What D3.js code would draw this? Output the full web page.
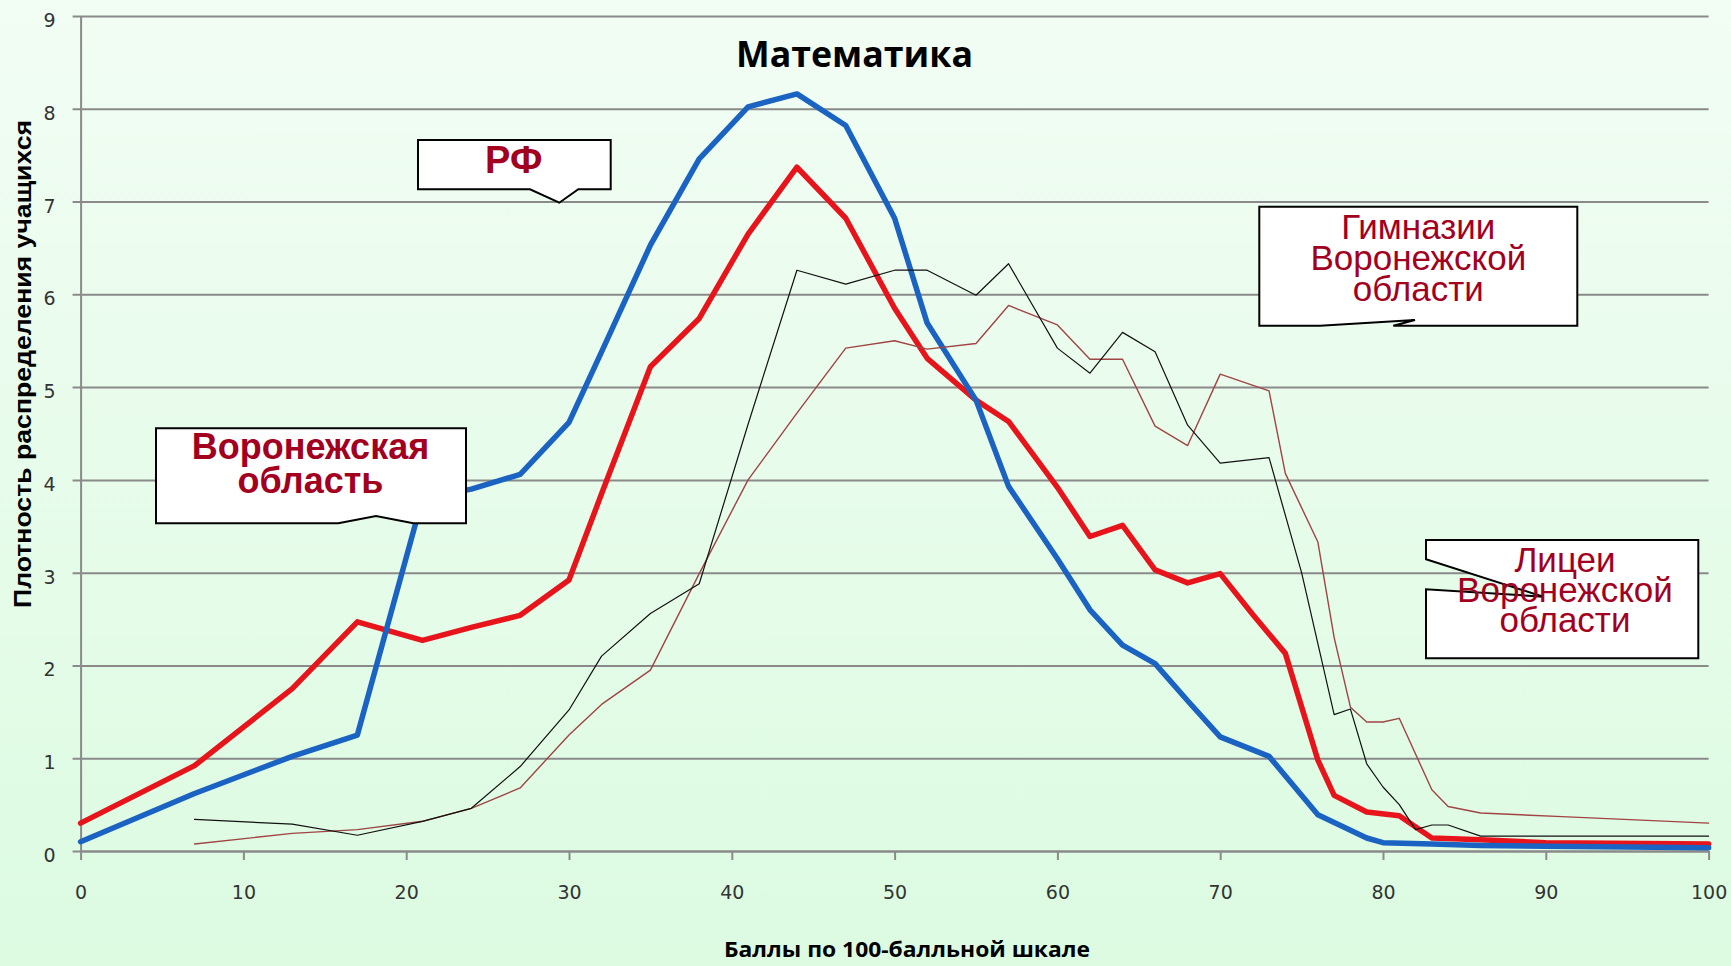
<!DOCTYPE html>
<html>
<head>
<meta charset="utf-8">
<script src="https://cdn.jsdelivr.net/npm/d3@7"></script>
<style>
  body { margin: 0; background: #e6fbe9; }
  .graph svg { display: block; }
</style>
</head>
<body>
<div class="graph"></div>
<script>
// РФ
const rfScores = [0, 7, 13, 17, 21, 24, 27, 30, 32, 35, 38, 41, 44, 47, 50, 52, 55, 57, 60, 62, 64, 66, 68, 70, 73, 76, 79, 80, 83, 86, 90, 100];
const rfDensity = [0.10, 0.62, 1.02, 1.25, 3.80, 3.90, 4.06, 4.62, 5.38, 6.53, 7.46, 8.02, 8.16, 7.82, 6.82, 5.69, 4.86, 3.93, 3.15, 2.60, 2.22, 2.02, 1.62, 1.23, 1.02, 0.39, 0.14, 0.09, 0.075, 0.06, 0.05, 0.035];

// Воронежская область
const vrnScores = [0, 7, 13, 17, 21, 24, 27, 30, 32, 35, 38, 41, 44, 47, 50, 52, 55, 57, 60, 62, 64, 66, 68, 70, 72, 74, 76, 77, 79, 81, 83, 86, 90, 100];
const vrnDensity = [0.30, 0.92, 1.75, 2.47, 2.27, 2.41, 2.54, 2.92, 3.85, 5.22, 5.74, 6.65, 7.37, 6.82, 5.85, 5.31, 4.86, 4.63, 3.92, 3.39, 3.51, 3.03, 2.89, 2.99, 2.55, 2.13, 0.98, 0.60, 0.42, 0.38, 0.14, 0.12, 0.09, 0.075];

// Гимназии Воронежской области
const gymScores = [7, 13, 17, 21, 24, 27, 30, 32, 35, 38, 41, 44, 47, 50, 52, 55, 57, 60, 62, 64, 66, 68, 70, 73, 75, 77, 78, 79, 80, 81, 82, 83, 84, 86, 100];
const gymDensity = [0.34, 0.29, 0.17, 0.32, 0.46, 0.91, 1.52, 2.10, 2.56, 2.88, 4.60, 6.26, 6.11, 6.26, 6.26, 5.99, 6.33, 5.42, 5.15, 5.59, 5.38, 4.59, 4.18, 4.24, 3.00, 1.47, 1.53, 0.94, 0.69, 0.50, 0.23, 0.28, 0.28, 0.16, 0.16];

// Лицеи Воронежской области
const lycScores = [7, 13, 17, 21, 24, 27, 30, 32, 35, 38, 41, 44, 47, 50, 52, 55, 57, 60, 62, 64, 66, 68, 70, 73, 74, 76, 77, 78, 79, 80, 81, 83, 84, 86, 91, 100];
const lycDensity = [0.075, 0.19, 0.23, 0.32, 0.46, 0.68, 1.25, 1.58, 1.95, 2.99, 4.00, 4.72, 5.42, 5.50, 5.41, 5.47, 5.88, 5.67, 5.30, 5.30, 4.58, 4.37, 5.14, 4.96, 4.07, 3.33, 2.30, 1.55, 1.39, 1.39, 1.43, 0.66, 0.48, 0.41, 0.37, 0.30];

const xTicks = [0, 10, 20, 30, 40, 50, 60, 70, 80, 90, 100];
const yTicks = [0, 1, 2, 3, 4, 5, 6, 7, 8, 9];

let W = 1731;
let H = 966;
let plotLeft = 80.6;
let plotRight = 1708.6;
let plotTop = 16;
let plotBottom = 851;

let svgvar = d3
  .select(".graph")
  .append("svg")
  .attr("width", W)
  .attr("height", H);

let grad = svgvar
  .append("defs")
  .append("linearGradient")
  .attr("id", "bg")
  .attr("x1", 0)
  .attr("y1", 0)
  .attr("x2", 0)
  .attr("y2", 1);
grad.append("stop").attr("offset", "0%").attr("stop-color", "#f2fdf4");
grad.append("stop").attr("offset", "100%").attr("stop-color", "#dcfbe1");

svgvar
  .append("rect")
  .attr("width", W)
  .attr("height", H)
  .attr("fill", "url(#bg)");

let xScale = d3.scaleLinear().domain([0, 100]).range([plotLeft, plotRight]);
let yScale = d3.scaleLinear().domain([0, 9]).range([plotBottom, plotTop]);

// y axis + gridlines
let yAxis = d3
  .axisLeft(yScale)
  .tickValues(yTicks)
  .tickSizeInner(-(plotRight - plotLeft))
  .tickSizeOuter(0)
  .tickPadding(25);

let yg = svgvar
  .append("g")
  .attr("transform", "translate(" + plotLeft + ",0)")
  .call(yAxis);
yg.select(".domain").attr("stroke", "#8a8a8a").attr("stroke-width", 2);
yg.selectAll(".tick line")
  .attr("x1", -8)
  .attr("stroke", "#8a8a8a")
  .attr("stroke-width", 2);
yg.selectAll(".tick text")
  .attr("dy", "0.55em")
  .style("font-family", "DejaVu Sans")
  .style("font-size", "19px")
  .attr("fill", "#333333");

// x axis
let xAxis = d3
  .axisBottom(xScale)
  .tickValues(xTicks)
  .tickSizeInner(9)
  .tickSizeOuter(0)
  .tickPadding(26);

let xg = svgvar
  .append("g")
  .attr("transform", "translate(0," + plotBottom + ")")
  .call(xAxis);
xg.select(".domain").attr("stroke", "#8a8a8a").attr("stroke-width", 2);
xg.selectAll(".tick line").attr("stroke", "#8a8a8a").attr("stroke-width", 2);
xg.selectAll(".tick text")
  .style("font-family", "DejaVu Sans")
  .style("font-size", "19px")
  .attr("fill", "#333333");

// lines
let line = d3
  .line()
  .x((d) => xScale(d[0]))
  .y((d) => yScale(d[1]));

function series(xs, ys) {
  return xs.map((x, i) => [x, ys[i]]);
}

let lines = [
  { data: series(vrnScores, vrnDensity), color: "#e8141c", width: 5.5 },
  { data: series(rfScores, rfDensity), color: "#1b63c2", width: 5.5 },
  { data: series(lycScores, lycDensity), color: "#a04444", width: 1.4 },
  { data: series(gymScores, gymDensity), color: "#111111", width: 1.2 }
];

svgvar
  .selectAll("path.series")
  .data(lines)
  .enter()
  .append("path")
  .attr("class", "series")
  .attr("d", (d) => line(d.data))
  .attr("fill", "none")
  .attr("stroke", (d) => d.color)
  .attr("stroke-width", (d) => d.width)
  .attr("stroke-linejoin", "round")
  .attr("stroke-linecap", "round");

// titles
svgvar
  .append("text")
  .attr("x", 854.5)
  .attr("y", 66.5)
  .attr("text-anchor", "middle")
  .attr("textLength", 237)
  .attr("lengthAdjust", "spacingAndGlyphs")
  .style("font-family", "Open Sans")
  .style("font-weight", "bold")
  .style("font-size", "35px")
  .text("Математика");

svgvar
  .append("text")
  .attr("x", 907)
  .attr("y", 957)
  .attr("text-anchor", "middle")
  .attr("textLength", 366)
  .attr("lengthAdjust", "spacingAndGlyphs")
  .style("font-family", "Open Sans")
  .style("font-weight", "bold")
  .style("font-size", "22px")
  .text("Баллы по 100-балльной шкале");

svgvar
  .append("text")
  .attr("transform", "translate(31,364) rotate(-90)")
  .attr("text-anchor", "middle")
  .attr("textLength", 488)
  .attr("lengthAdjust", "spacingAndGlyphs")
  .style("font-family", "Liberation Sans")
  .style("font-weight", "bold")
  .style("font-size", "24px")
  .text("Плотность распределения учащихся");

// callouts
let callouts = [
  {
    path: "M418,140 H610.7 V189.3 H578.3 L559.3,202.7 L530,189.3 H418 Z",
    lines: ["РФ"],
    x: 513.7,
    y: 173,
    size: 38,
    lh: 0,
    bold: true
  },
  {
    path: "M156,428.3 H466 V523.3 H413.3 L376,516 L338.3,523.3 H156 Z",
    lines: ["Воронежская", "область"],
    x: 310.5,
    y: 459,
    size: 36,
    lh: 33.5,
    bold: true
  },
  {
    path: "M1259.3,206.7 H1577.3 V325.7 H1393.3 L1415,320 L1320,325.7 H1259.3 Z",
    lines: ["Гимназии", "Воронежской", "области"],
    x: 1418.3,
    y: 239.3,
    size: 35,
    lh: 30.8,
    bold: false
  },
  {
    path: "M1426,540 H1698.3 V658.3 H1426 V589.3 L1543.3,596.7 L1426,559.3 Z",
    lines: ["Лицеи", "Воронежской", "области"],
    x: 1565,
    y: 571.7,
    size: 35,
    lh: 30,
    bold: false
  }
];

callouts.forEach(function (c) {
  let g = svgvar.append("g");
  g.append("path")
    .attr("d", c.path)
    .attr("fill", "#ffffff")
    .attr("stroke", "#000000")
    .attr("stroke-width", 2);
  c.lines.forEach(function (t, i) {
    g.append("text")
      .attr("x", c.x)
      .attr("y", c.y + i * c.lh)
      .attr("text-anchor", "middle")
      .style("font-family", "Liberation Sans")
      .style("font-weight", c.bold ? "bold" : "normal")
      .style("font-size", c.size + "px")
      .attr("fill", "#a3001f")
      .text(t);
  });
});
</script>
</body>
</html>
